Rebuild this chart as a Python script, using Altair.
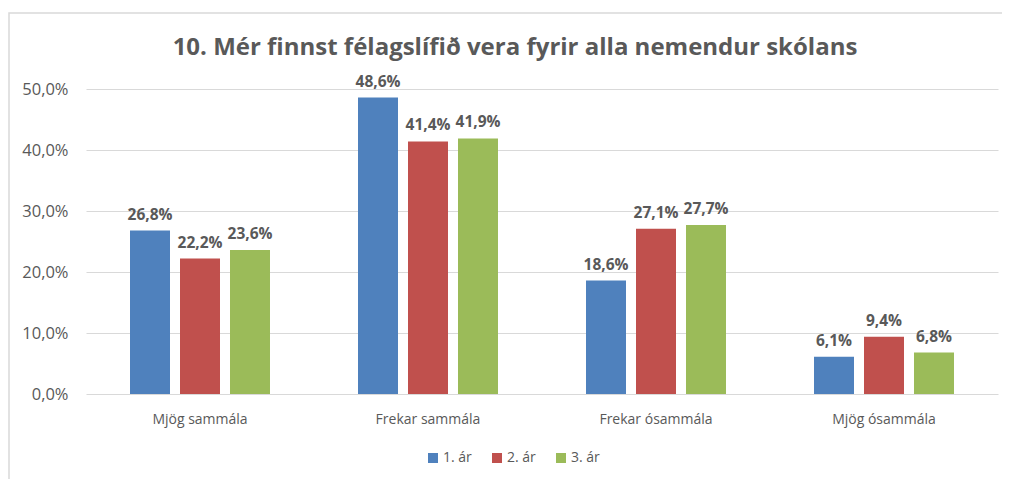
import altair as alt
import pandas as pd

categories = ["Mjög sammála", "Frekar sammála", "Frekar ósammála", "Mjög ósammála"]
series = ["1. ár", "2. ár", "3. ár"]
values_1 = [26.8, 48.6, 18.6, 6.1]
values_2 = [22.2, 41.4, 27.1, 9.4]
values_3 = [23.6, 41.9, 27.7, 6.8]
colors = ["#4F81BD", "#C0504D", "#9BBB59"]
title_text = "10. Mér finnst félagslífið vera fyrir alla nemendur skólans"

rows = []
for s, vals in zip(series, [values_1, values_2, values_3]):
    for c, v in zip(categories, vals):
        rows.append({"cat": c, "series": s, "value": v,
                     "label": f"{v:.1f}".replace(".", ",") + "%"})
df = pd.DataFrame(rows)

FONT = "Open Sans"
GREY = "#595959"

x = alt.X("cat:N", sort=categories,
          scale=alt.Scale(paddingInner=0.386, paddingOuter=0.193),
          axis=alt.Axis(title=None, labelAngle=0, domain=False, ticks=False,
                        labelPadding=18, labelFontSize=14, labelColor=GREY,
                        labelFont=FONT))
xo = alt.XOffset("series:N", sort=series,
                 scale=alt.Scale(paddingInner=0.2, paddingOuter=0))
y = alt.Y("value:Q", scale=alt.Scale(domain=[0, 50], nice=False),
          axis=alt.Axis(title=None, values=[0, 10, 20, 30, 40, 50],
                        labelExpr="replace(format(datum.value, '.1f'), '.', ',') + '%'",
                        domain=False, ticks=False, labelPadding=18,
                        labelFontSize=16.5, labelColor=GREY, labelFont=FONT,
                        gridColor="#D9D9D9", gridWidth=1))

border = alt.Chart(pd.DataFrame({"a": [0]})).mark_rect(
    fill=None, stroke="#D9D9D9", strokeWidth=1.5, clip=False
).encode(x=alt.value(-77), x2=alt.value(960), y=alt.value(-76), y2=alt.value(410))

title = alt.Chart(pd.DataFrame({"t": [title_text]})).mark_text(
    fontSize=24, fontWeight="bold", color=GREY, font=FONT, align="center",
    baseline="middle", clip=False
).encode(x=alt.value(429), y=alt.value(-41), text="t:N")

bars = alt.Chart(df).mark_bar().encode(
    x=x, xOffset=xo, y=y,
    color=alt.Color("series:N", sort=series,
                    scale=alt.Scale(domain=series, range=colors),
                    legend=alt.Legend(title=None, orient="none", direction="horizontal",
                                      legendX=340, legendY=362, symbolType="square",
                                      symbolSize=100, symbolStrokeWidth=0,
                                      labelFontSize=14, labelColor=GREY, labelFont=FONT,
                                      columnPadding=18, labelOffset=3))
)

labels = alt.Chart(df).mark_text(
    dy=-16, fontSize=15.5, fontWeight="bold", color=GREY, font=FONT
).encode(x=alt.X("cat:N", sort=categories), xOffset=alt.XOffset("series:N", sort=series),
         y="value:Q", text="label:N")

chart = alt.layer(border, title, bars, labels).properties(
    width=912, height=305,
    autosize=alt.AutoSizeParams(type="none"),
    padding={"left": 78, "top": 81, "right": 4, "bottom": 85},
).configure_view(stroke=None)

chart.save("out.html", embed_options={"renderer": "svg", "actions": False})
